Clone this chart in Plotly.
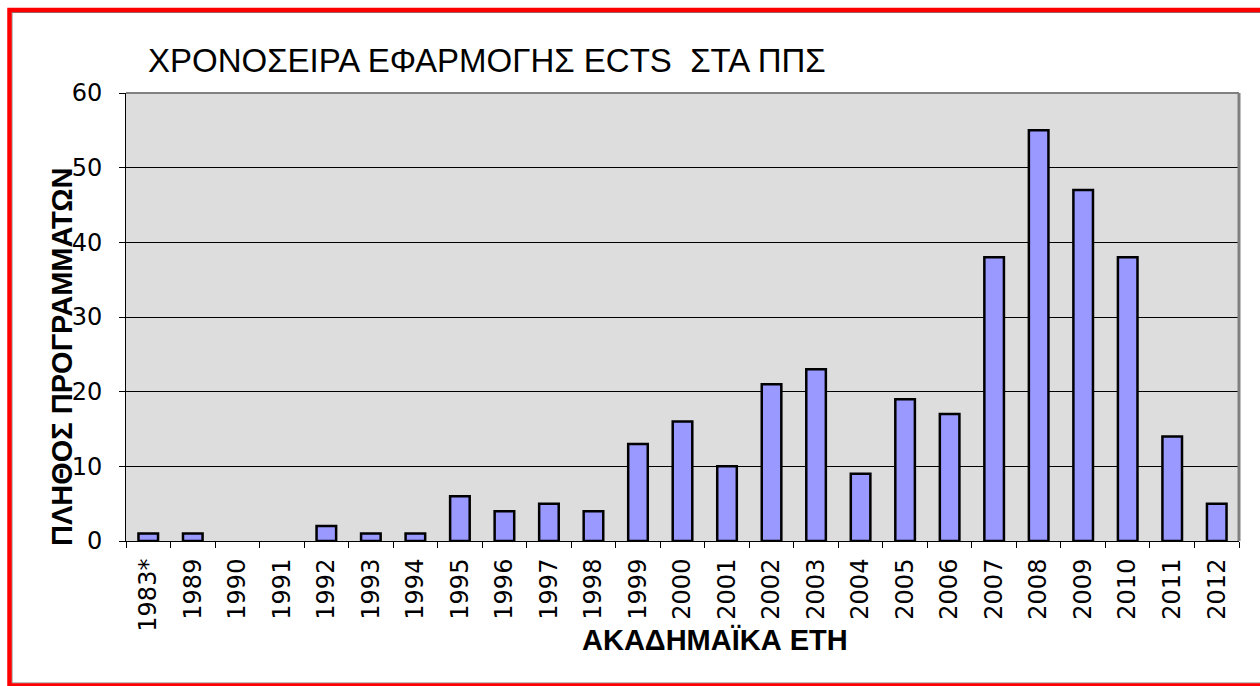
import plotly.graph_objects as go

years = ["1983*", "1989", "1990", "1991", "1992", "1993", "1994", "1995", "1996", "1997",
         "1998", "1999", "2000", "2001", "2002", "2003", "2004", "2005", "2006", "2007",
         "2008", "2009", "2010", "2011", "2012"]
programs = [1, 1, 0, 0, 2, 1, 1, 6, 4, 5, 4, 13, 16, 10, 21, 23, 9, 19, 17, 38, 55, 47, 38, 14, 5]
y_ticks = [0, 10, 20, 30, 40, 50, 60]

title_text = "ΧΡΟΝΟΣΕΙΡΑ ΕΦΑΡΜΟΓΗΣ ECTS\u00a0\u00a0ΣΤΑ ΠΠΣ"
y_title = "ΠΛΗΘΟΣ ΠΡΟΓΡΑΜΜΑΤΩΝ"
x_title = "ΑΚΑΔΗΜΑΪΚΑ ΕΤΗ"

W, H = 1260, 686
L, R, T, B = 126, 21, 93, 145
pw, ph = W - L - R, H - T - B

def px(x):
    return (x - L) / pw

def py(y):
    return (H - B - y) / ph

font = "Liberation Sans, Arial, sans-serif"
tickfont = "DejaVu Sans, sans-serif"

fig = go.Figure(go.Bar(
    x=years, y=programs,
    marker=dict(color="#9999FF",
                line=dict(color="black", width=[2.5 if v > 0 else 0 for v in programs])),
    width=0.44,
))

fig.update_layout(
    width=W, height=H,
    margin=dict(l=L, r=R, t=T, b=B),
    paper_bgcolor="white",
    plot_bgcolor="#DDDDDD",
    showlegend=False,
    font=dict(family=font, color="black"),
    xaxis=dict(
        type="category", tickangle=-90, tickfont=dict(size=24, family=tickfont, color="black"),
        ticks="outside", tickson="boundaries", ticklen=6, tickcolor="black",
        ticklabelstandoff=7,
        showline=True, linecolor="black", linewidth=1, showgrid=False,
        range=[-0.5, len(years) - 0.5],
    ),
    yaxis=dict(
        range=[0, 60], tickvals=y_ticks, tickfont=dict(size=24, family=tickfont, color="black"),
        ticks="outside", ticklen=6, tickcolor="black",
        ticklabelstandoff=12,
        showline=True, linecolor="black", linewidth=1,
        showgrid=True, gridcolor="black", gridwidth=1, zeroline=False,
    ),
    shapes=[
        dict(type="line", xref="paper", yref="paper", x0=0, x1=1, y0=1, y1=1,
             line=dict(color="#808080", width=2)),
        dict(type="line", xref="paper", yref="paper", x0=1, x1=1, y0=0, y1=1,
             line=dict(color="#808080", width=3)),
        dict(type="rect", xref="paper", yref="paper",
             x0=px(12), x1=px(1270), y0=py(683), y1=py(12.5),
             line=dict(color="#808080", width=1), fillcolor="rgba(0,0,0,0)"),
        dict(type="rect", xref="paper", yref="paper",
             x0=px(9.5), x1=px(1270), y0=py(685.5), y1=py(10),
             line=dict(color="red", width=4.5), fillcolor="rgba(0,0,0,0)"),
    ],
    annotations=[
        dict(text=title_text, xref="paper", yref="paper", x=px(146), y=py(60),
             xanchor="left", yanchor="middle", showarrow=False,
             font=dict(size=33, family=font, color="black")),
        dict(text="<b>" + y_title + "</b>", xref="paper", yref="paper", x=px(62), y=py(357),
             xanchor="center", yanchor="middle", textangle=-90, showarrow=False,
             font=dict(size=29, family=font, color="black")),
        dict(text="<b>" + x_title + "</b>", xref="paper", yref="paper", x=px(715), y=py(640),
             xanchor="center", yanchor="middle", showarrow=False,
             font=dict(size=29, family=font, color="black")),
    ],
)

fig.write_html("out.html", config={"displayModeBar": False},
               post_script="document.body.style.margin='0';document.body.style.overflow='hidden';")
